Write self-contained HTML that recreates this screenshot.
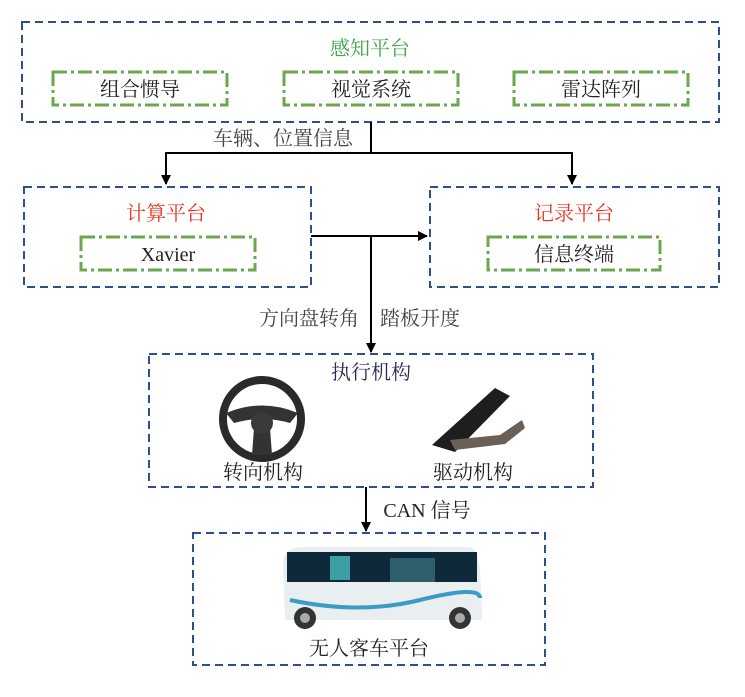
<!DOCTYPE html>
<html><head><meta charset="utf-8"><style>
body{margin:0;background:#fff;width:745px;height:692px;overflow:hidden}
svg text{font-family:"Liberation Serif","Noto Serif CJK SC",serif;font-size:20px;text-anchor:middle;fill:#222}
</style></head><body>
<svg width="745" height="692" viewBox="0 0 745 692">
<defs><marker id="a" markerWidth="10" markerHeight="10" refX="9" refY="5" orient="auto" markerUnits="userSpaceOnUse"><path d="M0,0 L10,5 L0,10 Z" fill="#000"/></marker></defs>
<g fill="none" stroke="#2e4f8a" stroke-width="2" stroke-dasharray="8,5">
<rect x="22" y="22" width="697" height="100"/>
<rect x="24" y="187" width="287" height="100"/>
<rect x="430" y="187" width="289" height="100"/>
<rect x="149" y="354" width="444" height="133"/>
<rect x="193" y="533" width="352" height="132"/>
</g>
<g fill="none" stroke="#6aa84f" stroke-width="3" stroke-dasharray="14,4,3,4">
<rect x="53" y="72" width="174" height="33"/>
<rect x="284" y="72" width="174" height="33"/>
<rect x="514" y="72" width="174" height="33"/>
<rect x="81" y="237" width="174" height="33"/>
<rect x="488" y="237" width="172" height="33"/>
</g>
<g stroke="#000" stroke-width="2" fill="none">
<path d="M371,122 V153 H166 V184" marker-end="url(#a)"/>
<path d="M371,153 H572 V184" marker-end="url(#a)"/>
<path d="M311,236 H427" marker-end="url(#a)"/>
<path d="M371,236 V352" marker-end="url(#a)"/>
<path d="M366,487 V531" marker-end="url(#a)"/>
</g>
<text x="370" y="55" style="fill:#3ca648">感知平台</text>
<text x="140" y="96">组合惯导</text>
<text x="371" y="96">视觉系统</text>
<text x="601" y="96">雷达阵列</text>
<text x="283" y="145" style="fill:#444">车辆、位置信息</text>
<text x="166" y="220" style="fill:#e8321e">计算平台</text>
<text x="168" y="261">Xavier</text>
<text x="574" y="220" style="fill:#e8321e">记录平台</text>
<text x="574" y="261">信息终端</text>
<text x="309" y="325" style="fill:#444">方向盘转角</text>
<text x="420" y="325" style="fill:#444">踏板开度</text>
<text x="371" y="379" style="fill:#2a2a55">执行机构</text>
<text x="263" y="479">转向机构</text>
<text x="473" y="479">驱动机构</text>
<text x="427" y="517">CAN 信号</text>
<text x="369" y="655">无人客车平台</text>
<!-- wheel -->
<circle cx="262" cy="419" r="39" fill="none" stroke="#2a2a2a" stroke-width="8"/>
<path d="M226,413 Q262,398 298,413 L290,423 Q262,415 234,423 Z" fill="#333"/>
<path d="M254,428 L270,428 L272,455 L252,455 Z" fill="#333"/>
<circle cx="262" cy="423" r="11" fill="#3a3a3a"/>
<!-- pedal -->
<path d="M432,445 L495,388 L510,396 L455,452 Z" fill="#1e1e1e"/>
<path d="M450,440 L500,435 L522,420 L525,428 L505,444 L455,450 Z" fill="#6a6058"/>
<!-- bus -->
<path d="M283,560 Q285,548 300,547 L470,547 Q478,550 480,570 L482,620 L285,620 Z" fill="#e9eef0"/>
<rect x="287" y="552" width="190" height="30" fill="#0e2a3a"/>
<rect x="330" y="556" width="20" height="24" fill="#3d9fa3"/>
<rect x="390" y="558" width="45" height="24" fill="#2f5f6a"/>
<path d="M290,600 Q360,615 420,600 T480,598" stroke="#3a9cc4" stroke-width="4" fill="none"/>
<circle cx="305" cy="618" r="11" fill="#333"/><circle cx="305" cy="618" r="5" fill="#aaa"/>
<circle cx="460" cy="618" r="11" fill="#333"/><circle cx="460" cy="618" r="5" fill="#aaa"/>
</svg>
</body></html>
